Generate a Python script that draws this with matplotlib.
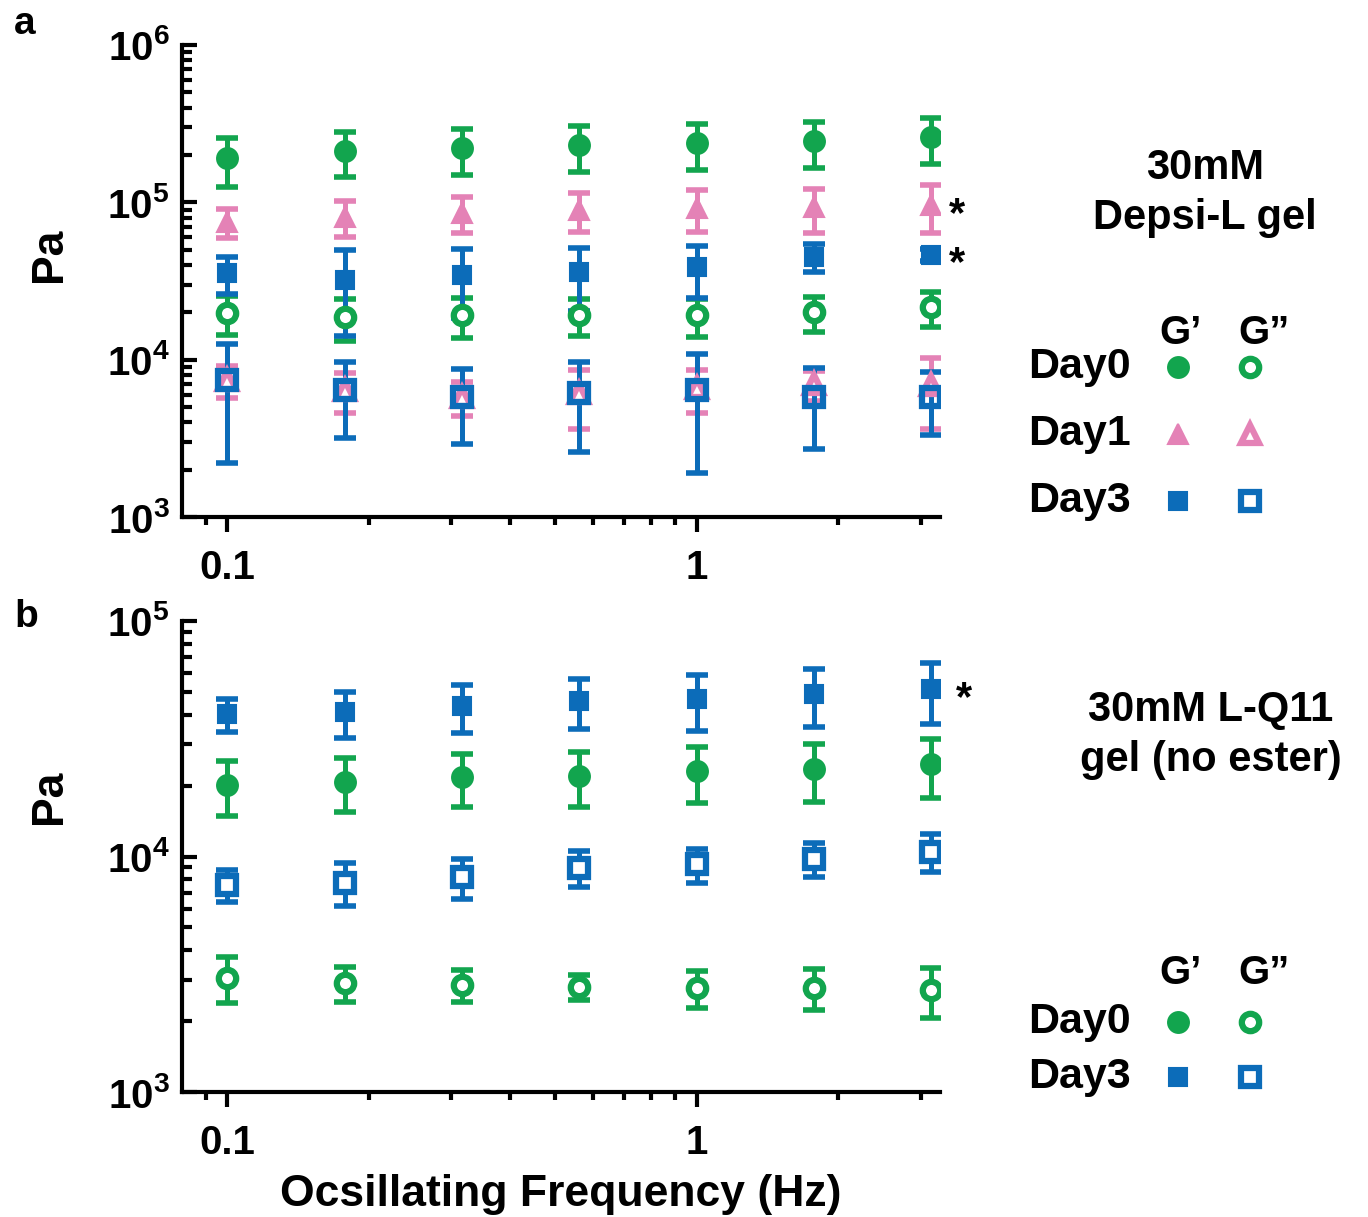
import numpy as np
import matplotlib
matplotlib.use("Agg")
import matplotlib.pyplot as plt
from matplotlib.ticker import LogLocator, FixedLocator, NullFormatter

plt.rcParams['font.family'] = ['Liberation Sans', 'DejaVu Sans']
plt.rcParams['font.weight'] = 'bold'
plt.rcParams['axes.labelweight'] = 'bold'
plt.rcParams['mathtext.fontset'] = 'custom'
plt.rcParams['mathtext.rm'] = 'Liberation Sans:bold'
plt.rcParams['mathtext.bf'] = 'Liberation Sans:bold'
plt.rcParams['mathtext.it'] = 'Liberation Sans:bold'

GREEN = '#12a54e'
PINK = '#e482b6'
BLUE = '#0c6cb9'

# oscillating frequency (Hz)
freq = [0.1, 0.178, 0.316, 0.562, 1.0, 1.78, 3.16]

# panel a: 30mM Depsi-L gel  (mean, SD in Pa)
a_d0_gp = [1.91e5, 2.12e5, 2.22e5, 2.32e5, 2.39e5, 2.45e5, 2.61e5]
a_d0_gp_sd = [0.65e5, 0.68e5, 0.72e5, 0.75e5, 0.78e5, 0.80e5, 0.85e5]
a_d0_gpp = [1.98e4, 1.87e4, 1.92e4, 1.92e4, 1.92e4, 2.01e4, 2.16e4]
a_d0_gpp_sd = [0.55e4, 0.55e4, 0.55e4, 0.50e4, 0.52e4, 0.50e4, 0.55e4]
a_d1_gp = [7.5e4, 8.1e4, 8.6e4, 9.0e4, 9.2e4, 9.3e4, 9.6e4]
a_d1_gp_sd = [1.6e4, 2.1e4, 2.2e4, 2.5e4, 2.7e4, 2.9e4, 3.2e4]
a_d1_gpp = [7.4e3, 6.4e3, 5.8e3, 6.1e3, 6.6e3, 7.0e3, 6.9e3]
a_d1_gpp_sd = [1.7e3, 1.8e3, 1.4e3, 2.5e3, 2.0e3, 1.5e3, 3.3e3]
a_d3_gp = [3.56e4, 3.21e4, 3.45e4, 3.60e4, 3.88e4, 4.50e4, 4.64e4]
a_d3_gp_sd = [0.95e4, 1.8e4, 1.6e4, 1.55e4, 1.4e4, 0.9e4, 0.4e4]
a_d3_gpp = [7.4e3, 6.4e3, 5.8e3, 6.1e3, 6.4e3, 5.8e3, 5.8e3]
a_d3_gpp_sd = [5.2e3, 3.2e3, 2.9e3, 3.5e3, 4.5e3, 3.1e3, 2.5e3]

# panel b: 30mM L-Q11 gel (no ester)
b_d0_gp = [2.02e4, 2.08e4, 2.17e4, 2.20e4, 2.30e4, 2.35e4, 2.46e4]
b_d0_gp_sd = [0.53e4, 0.53e4, 0.55e4, 0.57e4, 0.62e4, 0.65e4, 0.68e4]
b_d0_gpp = [3.06e3, 2.91e3, 2.85e3, 2.80e3, 2.77e3, 2.77e3, 2.72e3]
b_d0_gpp_sd = [0.68e3, 0.50e3, 0.45e3, 0.35e3, 0.50e3, 0.55e3, 0.65e3]
b_d3_gp = [4.02e4, 4.10e4, 4.35e4, 4.57e4, 4.66e4, 4.89e4, 5.14e4]
b_d3_gp_sd = [0.63e4, 0.90e4, 1.0e4, 1.1e4, 1.25e4, 1.35e4, 1.5e4]
b_d3_gpp = [7.60e3, 7.74e3, 8.2e3, 8.97e3, 9.25e3, 9.8e3, 1.05e4]
b_d3_gpp_sd = [1.2e3, 1.6e3, 1.6e3, 1.55e3, 1.5e3, 1.6e3, 1.9e3]

W, H = 1368, 1217
fig = plt.figure(figsize=(W / 100, H / 100), dpi=100)


def px_rect(x0, y0, x1, y1):
    return [x0 / W, 1 - y1 / H, (x1 - x0) / W, (y1 - y0) / H]


def marker_kw(color, marker, filled, face='white'):
    ms = 13.5 if marker == 's' else 15
    if filled:
        return dict(marker=marker, ms=ms, mfc=color, mec=color, mew=1.5)
    return dict(marker=marker, ms=12.5, mfc=face, mec=color, mew=4.5)


def series(ax, y, sd, color, marker, filled, face='white'):
    ax.errorbar(freq, y, yerr=sd, fmt='none', ecolor=color, elinewidth=3.6,
                capsize=8, capthick=4, zorder=2)
    ax.plot(freq, y, ls='none', zorder=3, **marker_kw(color, marker, filled, face))


def style_axis(ax, exps):
    ax.set_xscale('log')
    ax.set_yscale('log')
    ax.set_xlim(0.08, 3.3)
    ax.set_ylim(10.0 ** exps[0], 10.0 ** exps[-1])
    for s in ['top', 'right']:
        ax.spines[s].set_visible(False)
    for s in ['left', 'bottom']:
        ax.spines[s].set_linewidth(3)
    ax.set_xticks([0.1, 1])
    ax.set_xticklabels(['0.1', '1'])
    ax.xaxis.set_minor_locator(FixedLocator([0.09, 0.2, 0.3, 0.4, 0.5, 0.6, 0.7, 0.8, 0.9, 2, 3]))
    ax.xaxis.set_minor_formatter(NullFormatter())
    ax.set_yticks([10.0 ** e for e in exps])
    ax.set_yticklabels([r'$\mathbf{10^{%d}}$' % e for e in exps])
    ax.yaxis.set_minor_locator(LogLocator(base=10, subs=np.arange(2, 10)))
    ax.yaxis.set_minor_formatter(NullFormatter())
    ax.tick_params(axis='x', which='major', direction='out', length=11, width=3, pad=12, labelsize=29)
    ax.tick_params(axis='x', which='minor', direction='out', length=6, width=3)
    ax.tick_params(axis='y', which='major', direction='in', length=11, width=3, pad=9, labelsize=29)
    ax.tick_params(axis='y', which='minor', direction='in', length=7, width=3)


def draw_key(y_header, y_rows, labels, colors, markers, face_open):
    # key axes whose data units are (column, row)
    x_col1, dx = 1178, 72
    dy = y_rows[1] - y_rows[0]
    x0, x1 = 1000, 1360
    y0, y1 = y_header - 30, y_rows[-1] + 35
    k = fig.add_axes(px_rect(x0, y0, x1, y1))
    k.set_xlim((x0 - x_col1) / dx + 1, (x1 - x_col1) / dx + 1)
    k.set_ylim((y1 - y_rows[0]) / dy, (y0 - y_rows[0]) / dy)
    k.axis('off')
    hr = (y_header - y_rows[0]) / dy
    k.text(1.03, hr, 'G’', ha='center', va='center', fontsize=29)
    k.text(2.2, hr, 'G”', ha='center', va='center', fontsize=29)
    for r, (lab, c, m) in enumerate(zip(labels, colors, markers)):
        k.text(-1.08, r, lab, ha='left', va='center', fontsize=31)
        k.plot([1], [r], ls='none', **marker_kw(c, m, True))
        k.plot([2], [r], ls='none', **marker_kw(c, m, False, face_open))


ax_a = fig.add_axes(px_rect(182, 45, 940, 517))
ax_b = fig.add_axes(px_rect(182, 621, 940, 1092))

series(ax_a, a_d0_gp, a_d0_gp_sd, GREEN, 'o', True)
series(ax_a, a_d0_gpp, a_d0_gpp_sd, GREEN, 'o', False)
series(ax_a, a_d1_gp, a_d1_gp_sd, PINK, '^', True)
series(ax_a, a_d1_gpp, a_d1_gpp_sd, PINK, '^', False)
series(ax_a, a_d3_gp, a_d3_gp_sd, BLUE, 's', True)
series(ax_a, a_d3_gpp, a_d3_gpp_sd, BLUE, 's', False, face='none')
style_axis(ax_a, [3, 4, 5, 6])

series(ax_b, b_d0_gp, b_d0_gp_sd, GREEN, 'o', True)
series(ax_b, b_d0_gpp, b_d0_gpp_sd, GREEN, 'o', False)
series(ax_b, b_d3_gp, b_d3_gp_sd, BLUE, 's', True)
series(ax_b, b_d3_gpp, b_d3_gpp_sd, BLUE, 's', False)
style_axis(ax_b, [3, 4, 5])

for ax, ly in [(ax_a, 0.555), (ax_b, 0.626)]:
    ax.set_ylabel('Pa', fontsize=32)
    ax.yaxis.set_label_coords(-0.148, ly)
ax_b.set_xlabel('Ocsillating Frequency (Hz)', fontsize=32, labelpad=9)

# significance marks
star = dict(textcoords='offset points', fontsize=30, ha='left', va='center')
ax_a.annotate('*', xy=(freq[-1], a_d1_gp[-1]), xytext=(13, -7), **star)
ax_a.annotate('*', xy=(freq[-1], a_d3_gp[-1]), xytext=(13, -7), **star)
ax_b.annotate('*', xy=(freq[-1], b_d3_gp[-1]), xytext=(18, -7), **star)

fig.text(14 / W, 1 - 24 / H, 'a', fontsize=28, ha='left', va='center')
fig.text(14 / W, 1 - 617 / H, 'b', fontsize=28, ha='left', va='center')
fig.text(1205 / W, 1 - 193 / H, '30mM\nDepsi-L gel', ha='center', va='center',
         fontsize=30, linespacing=1.32)
fig.text(1211 / W, 1 - 735 / H, '30mM L-Q11\ngel (no ester)', ha='center', va='center',
         fontsize=30, linespacing=1.32)

draw_key(333, [367, 434, 500], ['Day0', 'Day1', 'Day3'], [GREEN, PINK, BLUE], ['o', '^', 's'], 'white')
draw_key(973, [1022, 1077], ['Day0', 'Day3'], [GREEN, BLUE], ['o', 's'], 'white')

fig.savefig('out.png', dpi=100)
